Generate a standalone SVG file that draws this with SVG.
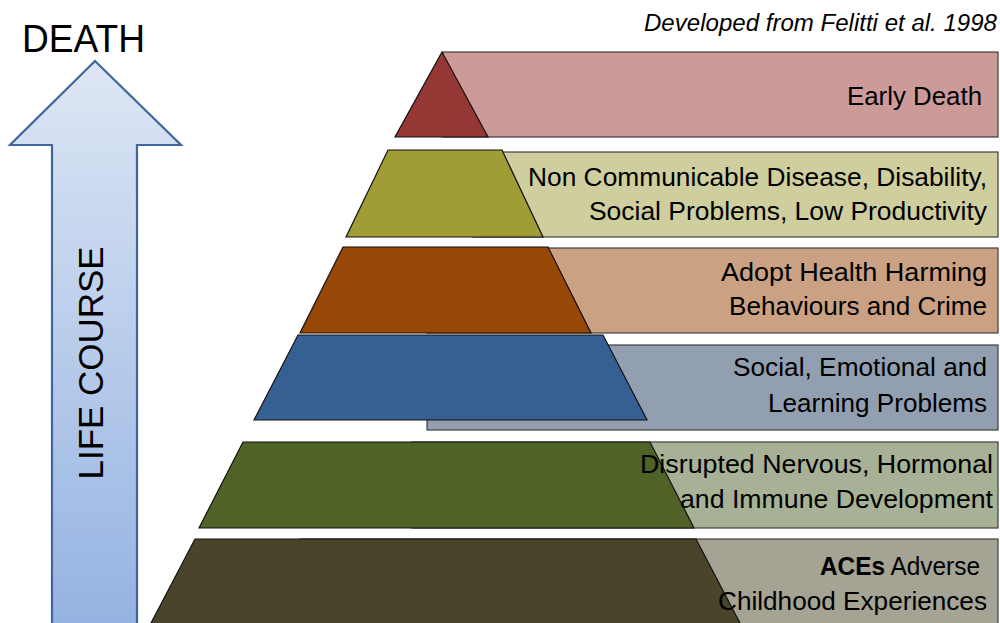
<svg xmlns="http://www.w3.org/2000/svg" width="1000" height="623" viewBox="0 0 1000 623">
  <defs>
    <linearGradient id="arrowGrad" gradientUnits="userSpaceOnUse" x1="0" y1="61" x2="0" y2="623">
      <stop offset="0" stop-color="#dde6f4"/>
      <stop offset="1" stop-color="#95b3e2"/>
    </linearGradient>
    <style>
      .lbl { font-family: "Liberation Sans", Arial, sans-serif; font-size: 26px; fill: #000; text-anchor: end; }
      .box { stroke: #3f3f3f; stroke-width: 1.2; }
      .trap { stroke: #111; stroke-width: 1.2; stroke-linejoin: miter; }
    </style>
  </defs>
  <rect width="1000" height="623" fill="#ffffff"/>

  <g id="life-course-arrow">
    <path d="M95,61 L181,145 L137,145 L137,630 L52,630 L52,145 L10,145 Z" fill="url(#arrowGrad)" stroke="#41679a" stroke-width="2.2" stroke-linejoin="miter"/>
    <text transform="translate(103,363) rotate(-90)" x="0" y="0" text-anchor="middle" font-family="Liberation Sans, Arial, sans-serif" font-size="35" textLength="233" lengthAdjust="spacingAndGlyphs">LIFE COURSE</text>
  </g>

  <g id="death-label">
    <text x="22" y="52" font-family="Liberation Sans, Arial, sans-serif" font-size="38" textLength="123" lengthAdjust="spacingAndGlyphs">DEATH</text>
  </g>

  <g id="source-note">
    <text x="997" y="31" text-anchor="end" font-family="Liberation Sans, Arial, sans-serif" font-style="italic" font-size="23" textLength="353" lengthAdjust="spacingAndGlyphs">Developed from Felitti et al. 1998</text>
  </g>

  <g id="band-early-death">
    <rect class="box" x="443" y="52" width="555" height="85" fill="#cc9a99"/>
    <polygon class="trap" points="442,52 488,137 395,137" fill="#953735"/>
    <text class="lbl" x="982" y="105" textLength="135" lengthAdjust="spacingAndGlyphs">Early Death</text>
  </g>

  <g id="band-disease">
    <rect class="box" x="473" y="152" width="525" height="85" fill="#cfce9e"/>
    <polygon class="trap" points="388,150 502,150 543,237 346,237" fill="#a09c36"/>
    <text class="lbl" x="987" y="186" textLength="459" lengthAdjust="spacingAndGlyphs">Non Communicable Disease, Disability,</text>
    <text class="lbl" x="987" y="220" textLength="398" lengthAdjust="spacingAndGlyphs">Social Problems, Low Productivity</text>
  </g>

  <g id="band-behaviours">
    <rect class="box" x="427" y="248" width="571" height="85" fill="#caa283"/>
    <polygon class="trap" points="343,247 548,247 591,333 300,333" fill="#974806"/>
    <text class="lbl" x="987" y="281" textLength="266" lengthAdjust="spacingAndGlyphs">Adopt Health Harming</text>
    <text class="lbl" x="987" y="315" textLength="258" lengthAdjust="spacingAndGlyphs">Behaviours and Crime</text>
  </g>

  <g id="band-social">
    <rect class="box" x="427" y="345" width="571" height="85" fill="#919fb1"/>
    <polygon class="trap" points="298,335 603,335 647,420 254,420" fill="#376092"/>
    <text class="lbl" x="987" y="376" textLength="254" lengthAdjust="spacingAndGlyphs">Social, Emotional and</text>
    <text class="lbl" x="987" y="412" textLength="219" lengthAdjust="spacingAndGlyphs">Learning Problems</text>
  </g>

  <g id="band-development">
    <rect class="box" x="412" y="442" width="586" height="86" fill="#a7b195"/>
    <polygon class="trap" points="243,442 650,442 694,528 199,528" fill="#4f6228"/>
    <text class="lbl" x="993" y="473" textLength="353" lengthAdjust="spacingAndGlyphs">Disrupted Nervous, Hormonal</text>
    <text class="lbl" x="993" y="508" textLength="313" lengthAdjust="spacingAndGlyphs">and Immune Development</text>
  </g>

  <g id="band-aces">
    <rect class="box" x="300" y="539" width="698" height="95" fill="#a5a393"/>
    <polygon class="trap" points="195,539 696,539 741,625 150,625" fill="#4a452a"/>
    <text class="lbl" x="980" y="575" textLength="160" lengthAdjust="spacingAndGlyphs"><tspan font-weight="bold">ACEs</tspan> Adverse</text>
    <text class="lbl" x="987" y="610" textLength="269" lengthAdjust="spacingAndGlyphs">Childhood Experiences</text>
  </g>
</svg>
